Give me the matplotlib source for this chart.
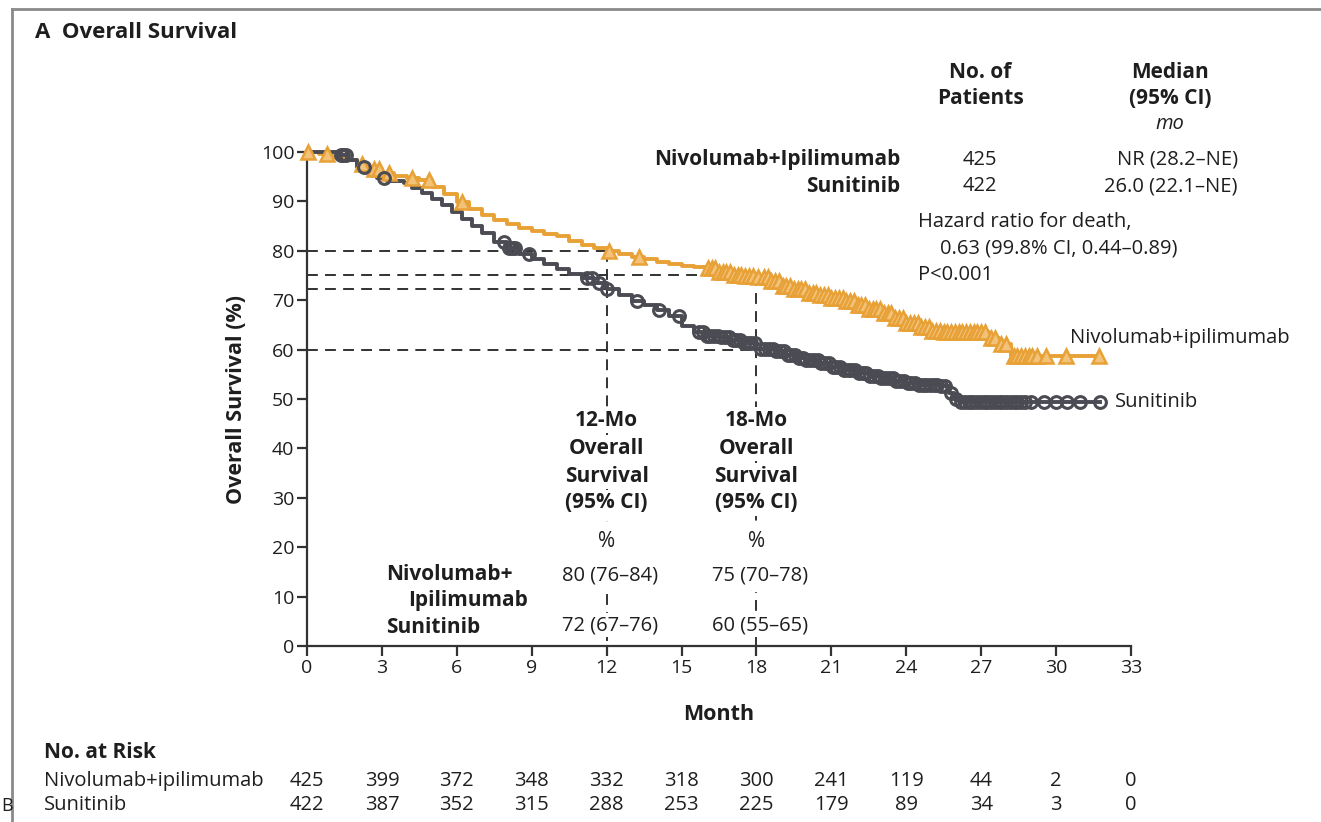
import numpy as np
import matplotlib
matplotlib.use("Agg")
import matplotlib.pyplot as plt
from matplotlib.lines import Line2D
import matplotlib.transforms as mtransforms

plt.rcParams['font.family'] = ['Open Sans', 'DejaVu Sans']

# ---------------- data ----------------
nivo_t = [0, 0.5, 1.0, 1.5, 2.0, 2.5, 3.0, 3.5, 4.0, 4.5, 5.0, 5.5, 6.0, 6.5, 7.0, 7.5,
          8.0, 8.5, 9.0, 9.5, 10.0, 10.5, 11.0, 11.5, 12.0, 12.5, 13.0, 13.5, 14.0, 14.5,
          15.0, 15.5, 16.0, 16.5, 17.0, 17.5, 18.0, 18.5, 19.0, 19.5, 20.0, 20.5, 21.0,
          21.5, 22.0, 22.5, 23.0, 23.5, 24.0, 24.5, 25.0, 25.5, 27.3, 27.7, 28.2, 31.75]
nivo_s = [100, 99.5, 99.0, 98.3, 97.6, 96.6, 95.8, 95.1, 94.8, 94.3, 93.0, 91.5, 89.8,
          88.4, 87.3, 86.3, 85.5, 84.7, 84.0, 83.5, 83.0, 82.0, 81.2, 80.6, 80.0, 79.4,
          78.8, 78.3, 77.8, 77.3, 77.0, 76.8, 76.5, 75.8, 75.2, 74.9, 74.6, 73.8, 72.9,
          72.2, 71.5, 71.0, 70.4, 69.8, 69.0, 68.2, 67.4, 66.3, 65.3, 64.5, 63.8, 63.5,
          62.3, 61.2, 58.7, 58.7]
nivo_cens = [0.05, 0.8, 2.2, 2.7, 2.9, 3.3, 4.2, 4.9, 6.2, 12.1, 13.3,
             16.05, 16.2, 16.35, 16.5, 16.65, 16.8, 16.95, 17.1, 17.25, 17.4, 17.55, 17.7,
             17.85, 18.05, 18.3, 18.45, 18.6, 18.75, 18.9, 19.05, 19.2, 19.35, 19.5, 19.65,
             19.8, 19.95, 20.1, 20.25, 20.4, 20.55, 20.7, 20.85, 21.0, 21.15, 21.3, 21.45,
             21.6, 21.75, 21.9, 22.05, 22.2, 22.35, 22.5, 22.65, 22.8, 22.95, 23.1, 23.25,
             23.4, 23.55, 23.7, 23.85, 24.0, 24.15, 24.3, 24.45, 24.6, 24.75, 24.9, 25.05,
             25.2, 25.35, 25.5, 25.65, 25.8, 25.95, 26.1, 26.25, 26.4, 26.55, 26.7, 26.85,
             27.0, 27.15, 27.4, 27.55, 27.8, 28.0, 28.3, 28.45, 28.6, 28.75, 28.9, 29.05,
             29.25, 29.6, 30.4, 31.7]

suni_t = [0, 1.3, 1.6, 2.0, 2.4, 2.8, 3.2, 3.9, 4.2, 4.6, 5.0, 5.4, 5.8, 6.2, 6.6, 7.0,
          7.5, 8.0, 8.5, 9.0, 9.5, 10.0, 10.5, 11.0, 11.5, 12.0, 12.5, 13.0, 13.5, 14.0,
          14.5, 15.0, 15.5, 16.0, 16.5, 17.0, 17.5, 18.0, 18.8, 19.2, 19.6, 20.0, 20.5,
          21.0, 21.5, 22.0, 22.5, 23.0, 23.5, 24.0, 24.5, 25.3, 25.7, 25.9, 26.1, 31.75]
suni_s = [100, 99.3, 98.3, 97.0, 95.8, 94.8, 94.2, 93.8, 92.8, 91.6, 90.5, 89.3, 87.8,
          86.5, 85.0, 83.6, 81.8, 80.6, 79.4, 78.3, 77.3, 76.3, 75.3, 74.4, 73.5, 72.3,
          71.0, 69.8, 69.0, 68.0, 66.8, 64.8, 63.5, 62.8, 62.5, 62.0, 61.3, 60.2, 59.8,
          59.0, 58.3, 57.8, 57.2, 56.5, 55.8, 55.2, 54.6, 54.2, 53.7, 53.2, 52.9, 52.6,
          51.2, 50.0, 49.3, 49.3]
suni_cens = [1.35, 1.45, 1.55, 2.3, 3.1, 7.9, 8.1, 8.2, 8.35, 8.9, 11.2, 11.4, 11.7, 12.0,
             13.2, 14.1, 14.9, 15.7, 15.85, 16.0, 16.15, 16.3, 16.45, 16.6, 16.75, 16.9,
             17.05, 17.2, 17.35, 17.5, 17.65, 17.8, 17.95, 18.2, 18.35, 18.5, 18.65, 18.8,
             18.95, 19.1, 19.25, 19.4, 19.55, 19.7, 19.85, 20.0, 20.15, 20.3, 20.45, 20.6,
             20.75, 20.9, 21.05, 21.2, 21.35, 21.5, 21.65, 21.8, 21.95, 22.1, 22.25, 22.4,
             22.55, 22.7, 22.85, 23.0, 23.15, 23.3, 23.45, 23.6, 23.75, 23.9, 24.05, 24.2,
             24.35, 24.5, 24.65, 24.8, 24.95, 25.1, 25.25, 25.4, 25.55, 25.8, 26.0, 26.2,
             26.35, 26.5, 26.65, 26.8, 26.95, 27.1, 27.25, 27.4, 27.55, 27.7, 27.85, 28.0,
             28.15, 28.3, 28.45, 28.6, 28.75, 29.0, 29.5, 30.0, 30.45, 30.95, 31.75]

landmark_months = [12, 18]
nivo_landmark = [80, 75]
suni_landmark = [72.3, 60]
nivo_landmark_txt = ["80 (76\u201384)", "75 (70\u201378)"]
suni_landmark_txt = ["72 (67\u201376)", "60 (55\u201365)"]

risk_months = [0, 3, 6, 9, 12, 15, 18, 21, 24, 27, 30, 33]
risk_nivo = [425, 399, 372, 348, 332, 318, 300, 241, 119, 44, 2, 0]
risk_suni = [422, 387, 352, 315, 288, 253, 225, 179, 89, 34, 3, 0]

ORANGE = "#E8A136"
GRAY = "#4B4B53"
DASH = "#222222"
TXT = "#1e1e1e"

W, H = 1321, 822
fig = plt.figure(figsize=(W / 100, H / 100), dpi=100)

def fx(px):
    return px / W

def fy(py):
    return 1 - py / H

ax = fig.add_axes([fx(307), fy(646), fx(1131) - fx(307), fy(152) - fy(646)])
ax.set_xlim(0, 33)
ax.set_ylim(0, 100)
for s in ["top", "right"]:
    ax.spines[s].set_visible(False)
for s in ["left", "bottom"]:
    ax.spines[s].set_linewidth(1.6)
    ax.spines[s].set_color("#333333")
ax.set_xticks(np.arange(0, 34, 3))
ax.set_yticks(np.arange(0, 101, 10))
ax.tick_params(axis="both", direction="out", length=7, width=1.6, color="#333333",
               labelsize=14, labelcolor=TXT, pad=2)

# dashed landmark lines
dash_kw = dict(color=DASH, lw=1.3, dashes=(6, 4), zorder=1)
for m, yn, ys in zip(landmark_months, nivo_landmark, suni_landmark):
    ax.plot([0, m], [yn, yn], **dash_kw)
    ax.plot([0, m], [ys, ys], **dash_kw)
    ax.plot([m, m], [yn, 0], **dash_kw)

# KM curves
def surv_at(tt, ss, c):
    idx = np.searchsorted(np.array(tt), np.array(c), side="right") - 1
    return np.array(ss)[idx]

ax.step(nivo_t, nivo_s, where="post", color=ORANGE, lw=2.8, zorder=3, clip_on=False)
ax.plot(nivo_cens, surv_at(nivo_t, nivo_s, nivo_cens), ls="none", marker="^", ms=9.5,
        mfc="#F1C277", mec=ORANGE, mew=1.8, zorder=4, clip_on=False)
ax.step(suni_t, suni_s, where="post", color=GRAY, lw=2.8, zorder=3, clip_on=False)
ax.plot(suni_cens, surv_at(suni_t, suni_s, suni_cens), ls="none", marker="o", ms=8.5,
        mfc="none", mec=GRAY, mew=2.2, zorder=4, clip_on=False)

ax.set_xlabel("Month", fontsize=15.5, fontweight="bold", labelpad=20, color=TXT)
ax.set_ylabel("Overall Survival (%)", fontsize=15.5, fontweight="bold", labelpad=10,
              color=TXT)

# curve labels
ax.text(30.55, 62.3, "Nivolumab+ipilimumab", fontsize=14.5, va="center", ha="left",
        color=TXT)
ax.text(32.35, 49.3, "Sunitinib", fontsize=14.5, va="center", ha="left", color=TXT)

# landmark text blocks (data x, pixel y)
tr = mtransforms.blended_transform_factory(ax.transData, fig.transFigure)
box = dict(facecolor="white", edgecolor="none", pad=1.5)
for m, head in zip(landmark_months, ["12-Mo", "18-Mo"]):
    for txt, py in zip([head, "Overall", "Survival", "(95% CI)"], [420, 448, 476, 503]):
        fig.text(m, fy(py), txt, transform=tr, ha="center", va="center", fontsize=15,
                 fontweight="bold", color=TXT, bbox=box, zorder=5)
    fig.text(m, fy(541), "%", transform=tr, ha="center", va="center", fontsize=15,
             color=TXT, bbox=dict(facecolor="white", edgecolor="none", pad=6), zorder=5)
for m, tn, ts in zip(landmark_months, nivo_landmark_txt, suni_landmark_txt):
    fig.text(m + 0.15, fy(575), tn, transform=tr, ha="center", va="center", fontsize=14.5,
             color=TXT, bbox=dict(facecolor="white", edgecolor="none", pad=5), zorder=5)
    fig.text(m + 0.15, fy(625), ts, transform=tr, ha="center", va="center", fontsize=14.5,
             color=TXT, bbox=box, zorder=5)
fig.text(fx(386), fy(575), "Nivolumab+", ha="left", va="center", fontsize=15,
         fontweight="bold", color=TXT)
fig.text(fx(408), fy(600), "Ipilimumab", ha="left", va="center", fontsize=15,
         fontweight="bold", color=TXT)
fig.text(fx(386), fy(627), "Sunitinib", ha="left", va="center", fontsize=15,
         fontweight="bold", color=TXT)

# title
fig.text(fx(35), fy(33), "A  Overall Survival", ha="left", va="center", fontsize=16,
         fontweight="bold", color=TXT)

# top-right table
bold = dict(fontsize=15, fontweight="bold", color=TXT, va="center")
norm = dict(fontsize=14.5, color=TXT, va="center")
fig.text(fx(980), fy(72), "No. of", ha="center", **bold)
fig.text(fx(980), fy(99), "Patients", ha="center", **bold)
fig.text(fx(1170), fy(72), "Median", ha="center", **bold)
fig.text(fx(1170), fy(99), "(95% CI)", ha="center", **bold)
fig.text(fx(1170), fy(124), "mo", ha="center", style="italic", **norm)
fig.text(fx(900), fy(160), "Nivolumab+Ipilimumab", ha="right", **bold)
fig.text(fx(900), fy(186), "Sunitinib", ha="right", **bold)
fig.text(fx(980), fy(160), "425", ha="center", **norm)
fig.text(fx(980), fy(186), "422", ha="center", **norm)
fig.text(fx(1238), fy(160), "NR (28.2\u2013NE)", ha="right", **norm)
fig.text(fx(1238), fy(186), "26.0 (22.1\u2013NE)", ha="right", **norm)
fig.text(fx(918), fy(222), "Hazard ratio for death,", ha="left", **norm)
fig.text(fx(940), fy(248), "0.63 (99.8% CI, 0.44\u20130.89)", ha="left", **norm)
fig.text(fx(918), fy(275), "P<0.001", ha="left", **norm)

# number at risk
fig.text(fx(44), fy(752), "No. at Risk", ha="left", **bold)
fig.text(fx(44), fy(781), "Nivolumab+ipilimumab", ha="left", **norm)
fig.text(fx(44), fy(805), "Sunitinib", ha="left", **norm)
for m, a, b in zip(risk_months, risk_nivo, risk_suni):
    fig.text(m, fy(781), str(a), transform=tr, ha="center", **norm)
    fig.text(m, fy(805), str(b), transform=tr, ha="center", **norm)

# frame lines
fig.add_artist(Line2D([fx(12), 1.0], [fy(9), fy(9)], color="#8a8a8a", lw=2.0))
fig.add_artist(Line2D([fx(12), fx(12)], [fy(9), 0.0], color="#8a8a8a", lw=2.0))
fig.text(fx(1), fy(806), "B", ha="left", va="center", fontsize=13, color=TXT)

fig.savefig("out.png", dpi=100)
